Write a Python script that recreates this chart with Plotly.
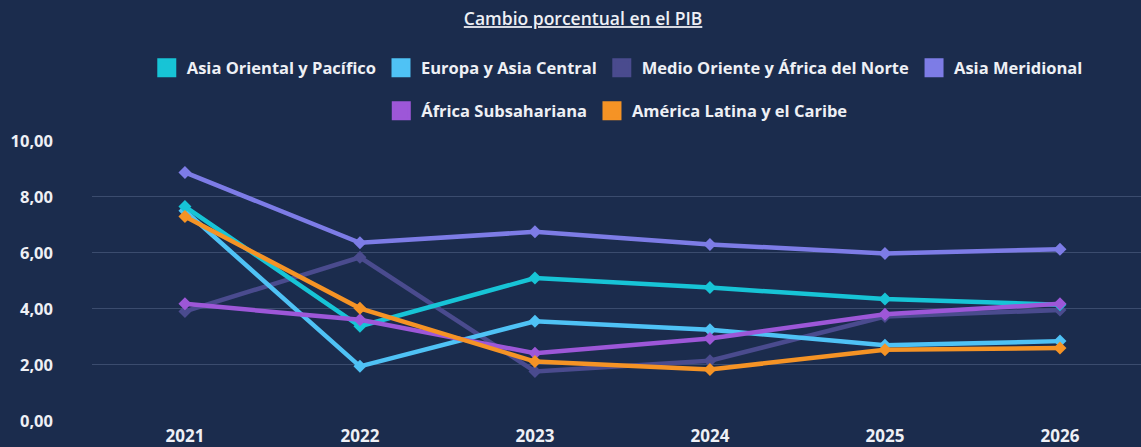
import plotly.graph_objects as go

years = ["2021", "2022", "2023", "2024", "2025", "2026"]
series_names = [
    "Asia Oriental y Pacífico",
    "Europa y Asia Central",
    "Medio Oriente y África del Norte",
    "Asia Meridional",
    "África Subsahariana",
    "América Latina y el Caribe",
]
asia_oriental = [7.65, 3.38, 5.10, 4.76, 4.35, 4.15]
europa_asia_central = [7.50, 1.95, 3.56, 3.26, 2.70, 2.85]
medio_oriente = [3.91, 5.84, 1.77, 2.15, 3.73, 3.96]
asia_meridional = [8.87, 6.36, 6.75, 6.30, 5.98, 6.13]
africa_subsahariana = [4.18, 3.61, 2.42, 2.94, 3.81, 4.18]
america_latina = [7.30, 4.02, 2.12, 1.84, 2.54, 2.60]
values = [asia_oriental, europa_asia_central, medio_oriente,
          asia_meridional, africa_subsahariana, america_latina]
colors = ["#17c4d6", "#4fc2f5", "#4a4b8e", "#7d7ce6", "#9d57d8", "#f59325"]
y_ticks = [0, 2, 4, 6, 8, 10]

BG = "#1b2c4d"
TXT = "#eef0f5"
FONT = "Open Sans"

fig = go.Figure()
order = [2, 3, 1, 0, 4, 5]
for i in order:
    fig.add_trace(go.Scatter(
        x=years, y=values[i], name=series_names[i], mode="lines+markers",
        line=dict(color=colors[i], width=4.5),
        marker=dict(symbol="diamond", size=10, color=colors[i]),
        showlegend=False, legendgroup=series_names[i],
    ))

for i, nm in enumerate(series_names):
    fig.add_trace(go.Scatter(
        x=[None], y=[None], name=nm, mode="markers",
        marker=dict(symbol="square", size=16, color=colors[i],
                    line=dict(color=colors[i], width=3)),
        legendgroup=nm, legend="legend" if i < 4 else "legend2",
    ))

legend_common = dict(
    orientation="h", xanchor="center", yanchor="middle",
    xref="container", yref="container",
    font=dict(family=FONT, size=16.5, color=TXT, weight=700),
    bgcolor="rgba(0,0,0,0)", itemsizing="trace", itemwidth=30,
    tracegroupgap=0,
)

fig.update_layout(
    width=1141, height=447,
    paper_bgcolor=BG, plot_bgcolor=BG,
    separators=",.",
    margin=dict(l=92, r=0, t=138, b=24),
    title=dict(
        text="Cambio porcentual en el PIB",
        x=0.511, xanchor="center", y=1 - 19 / 447, yanchor="middle",
        font=dict(family=FONT, size=17.5, color=TXT, weight=600, lineposition="under"),
    ),
    legend=dict(**legend_common, x=0.541, y=1 - 68 / 447),
    legend2=dict(**legend_common, x=0.541, y=1 - 111 / 447),
    xaxis=dict(
        type="category", range=[-0.531, 5.463],
        showgrid=False, zeroline=False, showline=False,
        tickfont=dict(family=FONT, size=17, color=TXT, weight=700),
        ticks="", ticklabelstandoff=3,
    ),
    yaxis=dict(
        range=[0, 10], tickvals=y_ticks, tickformat=".2f",
        showgrid=True, gridcolor="#3b4c6e", gridwidth=1,
        zeroline=False, showline=False,
        tickfont=dict(family=FONT, size=16.5, color=TXT, weight=700),
        ticks="", ticklabelstandoff=38,
    ),
)

fig.write_html("out.html", config={"displayModeBar": False})
with open("out.html", "r", encoding="utf-8") as f:
    html = f.read()
html = html.replace("<head>", "<head><style>html,body{margin:0;padding:0;background:%s;}</style>" % BG, 1)
with open("out.html", "w", encoding="utf-8") as f:
    f.write(html)
